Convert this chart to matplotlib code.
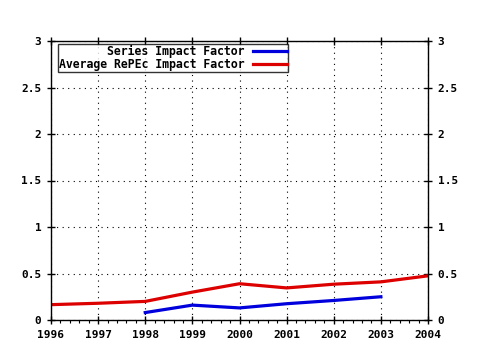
import matplotlib
matplotlib.use('Agg')
import matplotlib.pyplot as plt
from matplotlib.ticker import MultipleLocator, FuncFormatter

years = [1996, 1997, 1998, 1999, 2000, 2001, 2002, 2003, 2004]
series_years = [1998, 1999, 2000, 2001, 2002, 2003]
series_if = [0.08, 0.16, 0.13, 0.175, 0.21, 0.25]
avg_repec_if = [0.165, 0.18, 0.20, 0.30, 0.39, 0.345, 0.385, 0.41, 0.475]
yticks = [0, 0.5, 1, 1.5, 2, 2.5, 3]

plt.rcParams['font.family'] = ['DejaVu Sans Mono']
plt.rcParams['font.weight'] = 'bold'
plt.rcParams['font.size'] = 8

fig = plt.figure(figsize=(4.8, 3.5), dpi=100)
ax = fig.add_axes([51/480, 30/350, 377/480, 279/350])

ax.plot(series_years, series_if, color='#0000dd', lw=2.3, label='Series Impact Factor')
ax.plot(years, avg_repec_if, color='#dd0000', lw=2.3, label='Average RePEc Impact Factor')

ax.set_xlim(1996, 2004)
ax.set_ylim(0, 3)
ax.set_xticks(years)
ax.set_yticks(yticks)
ax.xaxis.set_minor_locator(MultipleLocator(0.2))
ax.yaxis.set_major_formatter(FuncFormatter(lambda v, p: '%g' % v))
ax.grid(True, which='major', color='black', ls=(0, (1, 4)), lw=0.8)

ax.tick_params(which='major', direction='inout', length=6, width=1,
               left=True, right=True, top=True, bottom=True,
               labelright=True, labelleft=True, pad=4)
ax.tick_params(which='minor', direction='out', length=2, width=0.8, top=False, bottom=True)
for s in ax.spines.values():
    s.set_linewidth(1)

leg = ax.legend(loc='upper left', bbox_to_anchor=(0.018, 0.99), markerfirst=False,
                frameon=True, fancybox=False, borderpad=0.1, labelspacing=0.0,
                handlelength=3.0, handletextpad=0.7, borderaxespad=0,
                prop={'size': 8.3, 'weight': 'bold'})
leg.get_frame().set_edgecolor('black')
leg.get_frame().set_linewidth(1)
for t in leg.get_texts():
    t.set_ha('right')

fig.savefig('out.png', dpi=100)
